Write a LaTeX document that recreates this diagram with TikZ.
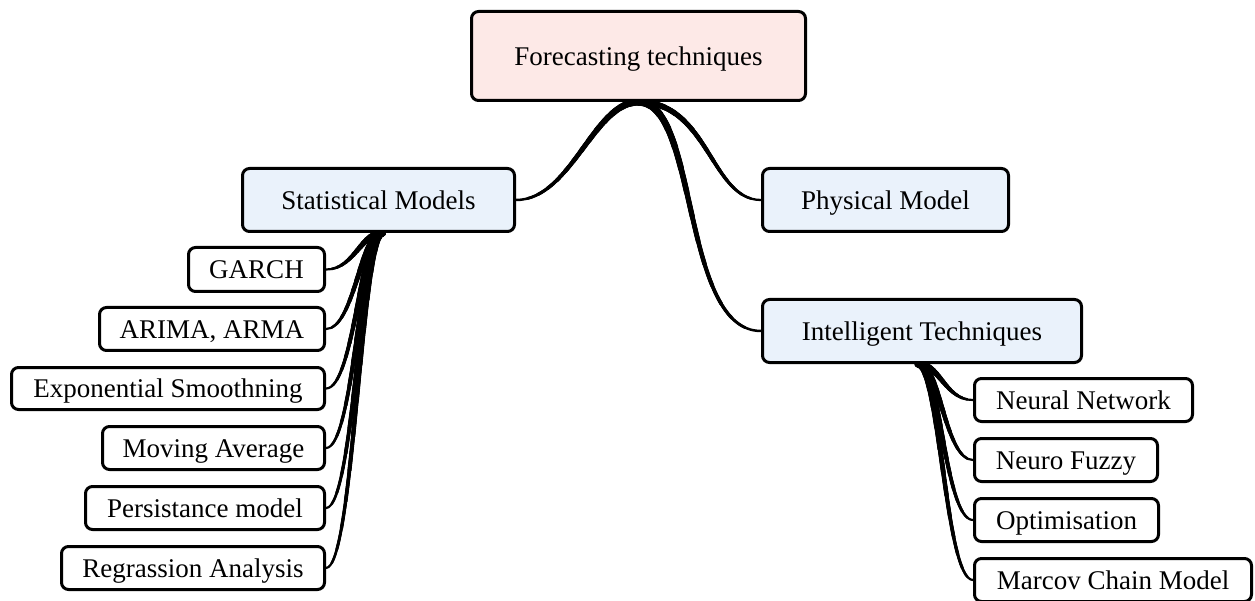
\documentclass[tikz,border=0pt]{standalone}
\usepackage{fontspec}
\setmainfont{Liberation Serif}
\usetikzlibrary{calc}
\pgfdeclarelayer{bg}
\pgfsetlayers{bg,main}
\definecolor{rootfill}{RGB}{253,233,231}
\definecolor{midfill}{RGB}{234,242,251}
% tapered cubic connector: #1 start, #2 ctrl1, #3 ctrl2, #4 end, #5 start width, #6 end width
\newcommand\taperline[6]{%
  \foreach \k in {0,...,13}{%
    \pgfmathsetmacro\tpar{1-\k/14}%
    \pgfmathsetmacro\tw{#6+(#5-#6)*\k/13}%
    \coordinate (tq1) at ($(#1)!\tpar!(#2)$);
    \coordinate (tr) at ($(#2)!\tpar!(#3)$);
    \coordinate (tu) at ($(#3)!\tpar!(#4)$);
    \coordinate (tq2) at ($(tq1)!\tpar!(tr)$);
    \coordinate (tv) at ($(tr)!\tpar!(tu)$);
    \coordinate (tq3) at ($(tq2)!\tpar!(tv)$);
    \draw[line width=\tw pt, line cap=round] (#1) .. controls (tq1) and (tq2) .. (tq3);
  }}
\begin{document}
\begin{tikzpicture}[x=1pt,y=-1pt,
  box/.style={draw, line width=3pt, rounded corners=7pt, inner sep=0pt,
    font=\fontsize{27}{32}\selectfont, text height=18.5pt, text depth=0pt},
  rootbox/.style={box, fill=rootfill},
  midbox/.style={box, fill=midfill},
  leafbox/.style={box, fill=white}]
\useasboundingbox (0,0) rectangle (1255,601);
% nodes
\node[rootbox, minimum width=334, minimum height=89] (root) at (638.5,56) {Forecasting techniques};
\node[midbox, minimum width=272, minimum height=63] (sm) at (378.5,200) {Statistical Models};
\node[midbox, minimum width=246, minimum height=63] (pm) at (885.5,200) {Physical Model};
\node[midbox, minimum width=319, minimum height=63] (it) at (922,331) {Intelligent Techniques};
\node[leafbox, minimum width=136, minimum height=44] (garch) at (256.5,269.5) {GARCH};
\node[leafbox, minimum width=225, minimum height=43] (arima) at (212,329) {ARIMA, ARMA};
\node[leafbox, minimum width=313, minimum height=42] (expo) at (168,388.5) {Exponential Smoothning};
\node[leafbox, minimum width=222, minimum height=43] (moving) at (213.5,448) {Moving Average};
\node[leafbox, minimum width=239, minimum height=43] (persist) at (205,508) {Persistance model};
\node[leafbox, minimum width=263, minimum height=43] (regr) at (193,568) {Regrassion Analysis};
\node[leafbox, minimum width=218, minimum height=43] (nn) at (1083.5,400) {Neural Network};
\node[leafbox, minimum width=183, minimum height=43] (nf) at (1066,460) {Neuro Fuzzy};
\node[leafbox, minimum width=184, minimum height=43] (opt) at (1066.5,520) {Optimisation};
\node[leafbox, minimum width=277, minimum height=43] (mcm) at (1113,580) {Marcov Chain Model};
% connectors
\begin{pgfonlayer}{bg}
  % root to second level
  \coordinate (rsA) at ($(root.south)+(-45,0)$);
  \coordinate (rsB) at ($(sm.east)+(55,0)$);
  \taperline{root.south}{rsA}{rsB}{sm.east}{7}{2.5}
  \coordinate (rpA) at ($(root.south)+(70,0)$);
  \coordinate (rpB) at ($(pm.west)+(-50,0)$);
  \taperline{root.south}{rpA}{rpB}{pm.west}{6}{2.3}
  \coordinate (riA) at ($(root.south)+(60,0)$);
  \coordinate (riB) at ($(it.west)+(-80,0)$);
  \taperline{root.south}{riA}{riB}{it.west}{7.5}{2.5}
  % statistical models to leaves
  \coordinate (smS) at ($(sm.south)+(4,0)$);
  \coordinate (smA) at ($(sm.south)+(-18,0)$);
  \foreach \n in {garch,arima,expo,moving,persist,regr}{
    \coordinate (smB) at ($(\n.east)+(28,0)$);
    \taperline{smS}{smA}{smB}{\n.east}{7}{2.2}
  }
  % intelligent techniques to leaves
  \coordinate (itS) at ($(it.south)+(-4,0)$);
  \coordinate (itA) at ($(it.south)+(18,0)$);
  \foreach \n in {nn,nf,opt,mcm}{
    \coordinate (itB) at ($(\n.west)+(-28,0)$);
    \taperline{itS}{itA}{itB}{\n.west}{7}{2.2}
  }
\end{pgfonlayer}
\end{tikzpicture}
\end{document}
